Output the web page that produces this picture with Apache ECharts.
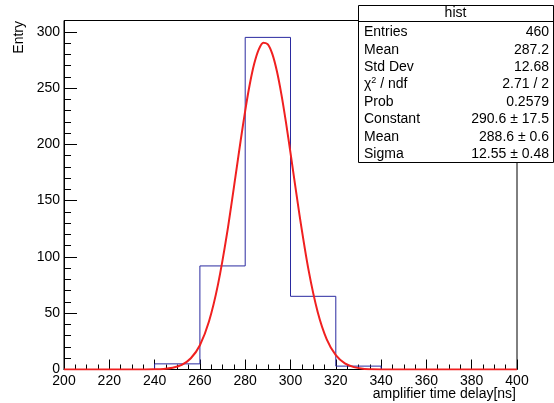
<!DOCTYPE html>
<html>
<head>
<meta charset="utf-8">
<script src="https://cdn.jsdelivr.net/npm/echarts@6/dist/echarts.min.js"></script>
<style>
html,body{margin:0;padding:0;background:#fff;}
#chart{width:554px;height:403px;}
</style>
</head>
<body>
<div id="chart"></div>
<script>
// ---- data ----
const binEdges = [200, 220, 240, 260, 280, 300, 320, 340, 360, 380, 400];
const binCounts = [0, 0, 5, 92, 295, 65, 3, 0, 0, 0];
const xTicks = [200, 220, 240, 260, 280, 300, 320, 340, 360, 380, 400];
const yTicks = [0, 50, 100, 150, 200, 250, 300];
// red fit curve
const fitX = [200, 220, 236, 240, 244, 248, 252, 256, 260, 264, 268, 272, 276, 278, 280, 282, 284, 286, 288, 290, 292, 294, 296, 298, 300, 304, 308, 312, 316, 320, 324, 328, 332, 336, 340, 360, 400];
const fitY = [0, 0, 0.05, 0.16, 0.53, 1.6, 4.1, 10.0, 21.6, 42.6, 75.6, 121.1, 175.6, 203.4, 229.8, 253.1, 271.7, 284.4, 290.3, 288.8, 280.1, 264.9, 244.2, 219.5, 192.4, 136.9, 88.0, 51.1, 26.8, 12.7, 5.4, 2.1, 0.74, 0.23, 0.07, 0, 0];
const statsTitle = 'hist';
const statLabels = ['Entries', 'Mean', 'Std Dev', 'CHI2', 'Prob', 'Constant', 'Mean', 'Sigma'];
const statValues = ['460', '287.2', '12.68', '2.71 / 2', '0.2579', '290.6 \u00b1 17.5', '288.6 \u00b1 0.6', '12.55 \u00b1 0.48'];
const xTitle = 'amplifier time delay[ns]';
const yTitle = 'Entry';

// ---- build ----
const histData = binEdges.map((e, i) => [e, binCounts[Math.min(i, binCounts.length - 1)]]);
const fitData = fitX.map((x, i) => [x, fitY[i]]);
const FONT = 'Liberation Sans, Arial, Helvetica, sans-serif';

const chart = echarts.init(document.getElementById('chart'), null, {renderer: 'canvas'});

const boxL = 358, boxR = 553, boxT = 5, boxB = 162, headB = 21;
const rowY0 = 32.3, rowStep = 17.4;
const statElems = [
  {type: 'rect', shape: {x: boxL + 0.5, y: boxT + 0.5, width: boxR - boxL, height: boxB - boxT},
   style: {fill: '#fff', stroke: '#000', lineWidth: 1}, z: 100},
  {type: 'line', shape: {x1: boxL, y1: headB + 0.5, x2: boxR, y2: headB + 0.5},
   style: {stroke: '#000', lineWidth: 1}, z: 101},
  {type: 'text', x: (boxL + boxR) / 2, y: (boxT + headB) / 2 + 0.5,
   style: {text: statsTitle, font: '14px ' + FONT, fill: '#000', align: 'center', verticalAlign: 'middle'}, z: 101}
];
statLabels.forEach((lab, i) => {
  const y = rowY0 + i * rowStep;
  if (lab === 'CHI2') {
    statElems.push({type: 'text', x: 364, y: y,
      style: {text: '{a|\u03c7}{s|2}{a| / ndf}', fill: '#000', verticalAlign: 'middle', align: 'left',
        rich: {a: {font: '14px ' + FONT, fill: '#000'}, s: {font: '9px ' + FONT, fill: '#000', padding: [0, 0, 7, 0]}}}, z: 101});
  } else {
    statElems.push({type: 'text', x: 364, y: y,
      style: {text: lab, font: '14px ' + FONT, fill: '#000', align: 'left', verticalAlign: 'middle'}, z: 101});
  }
  statElems.push({type: 'text', x: 549, y: y,
    style: {text: statValues[i], font: '14px ' + FONT, fill: '#000', align: 'right', verticalAlign: 'middle'}, z: 101});
});

const option = {
  backgroundColor: '#fff',
  animation: false,
  grid: {left: 64, right: 37, top: 20.5, bottom: 33.5, show: true, borderColor: '#000', borderWidth: 1, backgroundColor: 'transparent'},
  xAxis: {
    type: 'value', min: xTicks[0], max: xTicks[xTicks.length - 1], interval: 20,
    axisLine: {show: true, onZero: false, lineStyle: {color: '#000', width: 1}},
    axisTick: {show: true, inside: true, length: 10, lineStyle: {color: '#000'}},
    minorTick: {show: true, splitNumber: 4, length: 5, lineStyle: {color: '#000'}},
    axisLabel: {show: true, margin: 5, color: '#000', fontSize: 14, fontFamily: FONT,
      formatter: v => xTicks.indexOf(v) >= 0 ? String(v) : ''},
    splitLine: {show: false}
  },
  yAxis: [{
    type: 'value', min: 0, max: 310, interval: 50,
    axisLine: {show: true, onZero: false, lineStyle: {color: '#000', width: 1}},
    axisTick: {show: true, inside: true, length: 13, lineStyle: {color: '#000'}},
    axisLabel: {show: true, margin: 4, color: '#000', fontSize: 14, fontFamily: FONT,
      formatter: v => yTicks.indexOf(v) >= 0 ? String(v) : ''},
    splitLine: {show: false}
  }, {
    type: 'value', min: 0, max: 310, interval: 10, position: 'left',
    axisLine: {show: false},
    axisTick: {show: true, inside: true, length: 7, lineStyle: {color: '#000'}},
    axisLabel: {show: false},
    splitLine: {show: false}
  }],
  series: [{
    type: 'line', data: histData, step: 'end', showSymbol: false, symbol: 'none',
    lineStyle: {color: '#2a2aa0', width: 1}, z: 3
  }, {
    type: 'line', data: fitData, smooth: 0.25, showSymbol: false, symbol: 'none',
    lineStyle: {color: '#f02020', width: 2}, z: 4
  }],
  graphic: [
    {type: 'text', x: 19, y: 21, rotation: Math.PI / 2,
     style: {text: yTitle, font: '14px ' + FONT, fill: '#000', align: 'right', verticalAlign: 'middle'}},
    {type: 'text', x: 516, y: 394,
     style: {text: xTitle, font: '14px ' + FONT, fill: '#000', align: 'right', verticalAlign: 'middle'}}
  ].concat(statElems)
};
chart.setOption(option);
</script>
</body>
</html>
